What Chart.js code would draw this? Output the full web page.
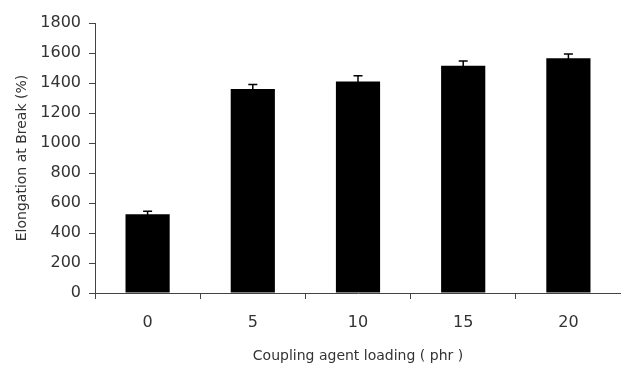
<!DOCTYPE html>
<html>
<head>
<meta charset="utf-8">
<script src="https://cdn.jsdelivr.net/npm/chart.js@4/dist/chart.umd.min.js"></script>
<style>
  html, body { margin: 0; padding: 0; background: #fff; }
  #wrap { width: 621px; height: 366px; }
</style>
</head>
<body>
<div id="wrap"><canvas id="elongation-chart"></canvas></div>
<script>
// Elongation at break vs. coupling agent loading
const loadings = ['0', '5', '10', '15', '20'];
const elongation = [525, 1360, 1410, 1515, 1565];
const elongationErr = [20, 30, 38, 32, 28];
const yTicks = [0, 200, 400, 600, 800, 1000, 1200, 1400, 1600, 1800];

const axisColor = '#444';
const textColor = '#333';

// draws the +/- error bars on top of each bar
const errorBars = {
  id: 'errorBars',
  afterDatasetsDraw(chart) {
    const ctx = chart.ctx;
    const yScale = chart.scales.y;
    const meta = chart.getDatasetMeta(0);
    ctx.save();
    ctx.strokeStyle = '#000';
    ctx.lineWidth = 1.5;
    meta.data.forEach((bar, i) => {
      const v = elongation[i];
      const e = elongationErr[i];
      const yHi = yScale.getPixelForValue(v + e);
      const yLo = yScale.getPixelForValue(v - e);
      ctx.beginPath();
      ctx.moveTo(bar.x, yLo);
      ctx.lineTo(bar.x, yHi);
      ctx.moveTo(bar.x - 4.5, yHi);
      ctx.lineTo(bar.x + 4.5, yHi);
      ctx.stroke();
    });
    ctx.restore();
  }
};

new Chart(document.getElementById('elongation-chart'), {
  type: 'bar',
  data: {
    labels: loadings,
    datasets: [{
      label: 'Elongation at Break (%)',
      data: elongation,
      backgroundColor: '#000',
      borderWidth: 0,
      barPercentage: 0.42,
      categoryPercentage: 1.0
    }]
  },
  options: {
    responsive: true,
    maintainAspectRatio: false,
    animation: false,
    layout: {
      padding: { top: 23, right: 0, bottom: 0, left: 0 }
    },
    plugins: {
      legend: { display: false },
      tooltip: { enabled: false }
    },
    scales: {
      x: {
        afterFit(scale) { scale.height = 73; },
        grid: {
          offset: true,
          drawOnChartArea: false,
          drawTicks: true,
          tickLength: 6,
          color: axisColor,
          lineWidth: 1
        },
        border: { display: true, color: axisColor, width: 1 },
        ticks: {
          padding: 14,
          color: textColor,
          font: { family: 'DejaVu Sans', size: 16 }
        },
        title: {
          display: true,
          text: 'Coupling agent loading ( phr )',
          color: textColor,
          font: { family: 'DejaVu Sans', size: 14 },
          padding: { top: 0, bottom: 1 }
        }
      },
      y: {
        min: 0,
        max: 1800,
        afterFit(scale) { scale.width = 95; },
        afterBuildTicks(scale) {
          scale.ticks = yTicks.map(v => ({ value: v }));
        },
        grid: {
          drawOnChartArea: false,
          drawTicks: true,
          tickLength: 6,
          color: axisColor,
          lineWidth: 1
        },
        border: { display: true, color: axisColor, width: 1 },
        ticks: {
          padding: 8,
          color: textColor,
          font: { family: 'DejaVu Sans', size: 16 },
          callback: (value) => String(value)
        },
        title: {
          display: true,
          text: 'Elongation at Break (%)',
          color: textColor,
          font: { family: 'DejaVu Sans', size: 14 },
          padding: { top: 14, bottom: 0 }
        }
      }
    }
  },
  plugins: [errorBars]
});
</script>
</body>
</html>
